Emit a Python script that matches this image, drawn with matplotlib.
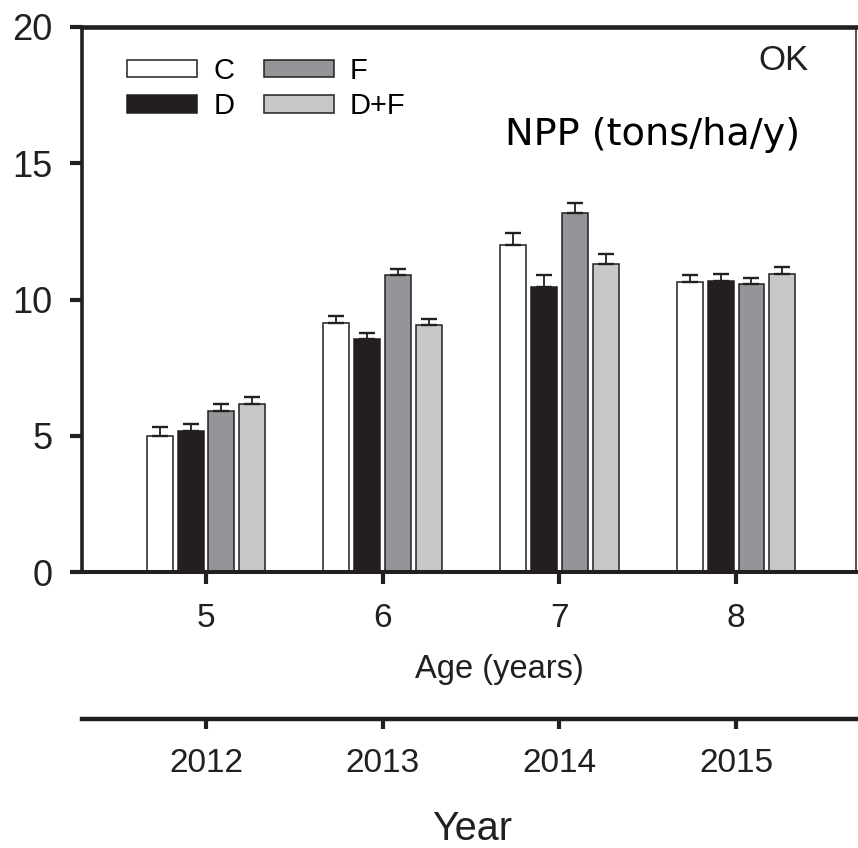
import matplotlib
matplotlib.use("Agg")
import matplotlib.pyplot as plt
from matplotlib import font_manager
import numpy as np

# ---- data ----
ages = [5, 6, 7, 8]
years = ["2012", "2013", "2014", "2015"]
treatments = ["C", "D", "F", "D+F"]
npp_C = [5.00, 9.13, 12.00, 10.63]
npp_D = [5.19, 8.54, 10.46, 10.69]
npp_F = [5.92, 10.89, 13.17, 10.57]
npp_DF = [6.17, 9.08, 11.31, 10.94]
err_C = [0.31, 0.26, 0.43, 0.26]
err_D = [0.24, 0.22, 0.43, 0.26]
err_F = [0.25, 0.23, 0.37, 0.23]
err_DF = [0.24, 0.20, 0.37, 0.25]
y_ticks = [0, 5, 10, 15, 20]

values = [npp_C, npp_D, npp_F, npp_DF]
errors = [err_C, err_D, err_F, err_DF]
fills = ["#ffffff", "#231f20", "#939598", "#c7c8ca"]
edge = "#231f20"

names = {f.name for f in font_manager.fontManager.ttflist}
base = "Liberation Sans" if "Liberation Sans" in names else "DejaVu Sans"
plt.rcParams["font.family"] = base

W, H = 858, 848
fig = plt.figure(figsize=(W / 100, H / 100), dpi=100)
L, R, T, B = 82, 856, 27, 572
ax = fig.add_axes([L / W, 1 - B / H, (R - L) / W, (B - T) / H])

step, bw = 0.175, 0.147
x = np.array(ages, dtype=float)
handles = []
for i, (vals, errs, fc, lab) in enumerate(zip(values, errors, fills, treatments)):
    pos = x + (i - 1.5) * step
    bars = ax.bar(pos, vals, width=bw, color=fc, edgecolor=edge, linewidth=1.1,
                  label=lab, zorder=2)
    handles.append(bars)
    ax.errorbar(pos, vals, yerr=[np.zeros(len(errs)), errs], fmt="none",
                ecolor=edge, elinewidth=1.3, capsize=6, capthick=1.7, zorder=3)

ax.set_xlim(4.298, 8.679)
ax.set_ylim(0, 20)
ax.set_yticks(y_ticks)
ax.set_xticks(ages)
ax.set_xticklabels([str(a) for a in ages])
ax.tick_params(axis="y", direction="out", length=8.5, width=3, pad=13,
               labelsize=26, color=edge, labelcolor="#231f20")
ax.tick_params(axis="x", direction="out", length=8.5, width=3, pad=14,
               labelsize=24, color=edge, labelcolor="#231f20")
ax.spines["left"].set_linewidth(2.6)
ax.spines["bottom"].set_linewidth(2.9)
ax.spines["top"].set_linewidth(3.3)
ax.spines["right"].set_linewidth(1.1)
for s in ax.spines.values():
    s.set_color(edge)

leg = ax.legend(handles=handles, labels=treatments, ncol=2, frameon=False,
                loc="upper left", bbox_to_anchor=(127 / W, 1 - 57 / H),
                bbox_transform=fig.transFigure, fontsize=21,
                handlelength=2.41, handleheight=0.55, handletextpad=0.55,
                columnspacing=1.0, labelspacing=0.25, borderpad=0,
                borderaxespad=0)

# Age label
fig.text(499 / W, 1 - 678 / H, "Age (years)", ha="center", va="baseline",
         fontsize=23.5, color="#231f20")

# Year axis
ax2 = fig.add_axes([L / W, 1 - 719 / H, (R - L) / W, 0.0001])
ax2.set_xlim(ax.get_xlim())
ax2.set_xticks(ages)
ax2.set_xticklabels(years)
ax2.set_yticks([])
for s in ["left", "right", "top"]:
    ax2.spines[s].set_visible(False)
ax2.spines["bottom"].set_linewidth(3.2)
ax2.spines["bottom"].set_color(edge)
ax2.patch.set_visible(False)
ax2.tick_params(axis="x", direction="out", length=7, width=3, pad=14,
                labelsize=24, color=edge, labelcolor="#231f20")
fig.text(472 / W, 1 - 840 / H, "Year", ha="center", va="baseline",
         fontsize=28.5, color="#231f20")

fig.text(808 / W, 1 - 70 / H, "OK", ha="right", va="baseline", fontsize=25,
         color="#231f20")
fig.text(505 / W, 1 - 145 / H, "NPP (tons/ha/y)", ha="left", va="baseline",
         fontsize=27.5, family="DejaVu Sans", color="black")

fig.savefig("out.png", dpi=100)
